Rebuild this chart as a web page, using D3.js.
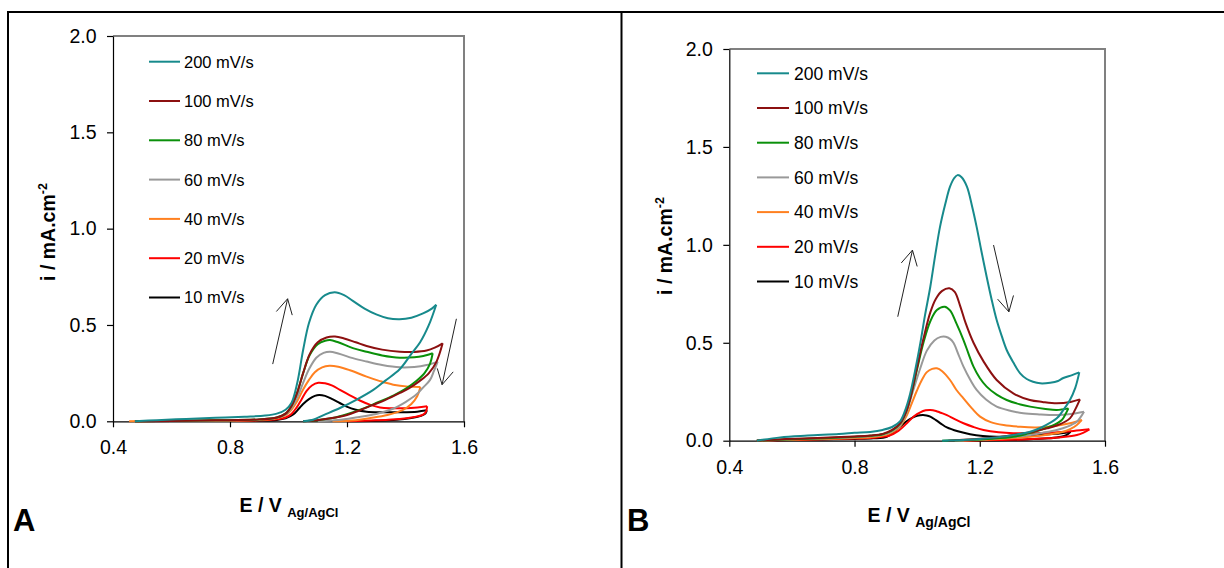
<!DOCTYPE html>
<html><head><meta charset="utf-8">
<script src="https://cdn.jsdelivr.net/npm/d3@7"></script>
<style>
body{margin:0;background:#fff}
svg{display:block}
text{font-family:Arial,"Liberation Sans",sans-serif;fill:#000}
</style>
</head><body>
<svg id="chart" width="1224" height="568"></svg>
<script>
// ---------- shared labels ----------
const rates = ["200 mV/s","100 mV/s","80 mV/s","60 mV/s","40 mV/s","20 mV/s","10 mV/s"];
const colors = ["#178a8c","#8c1010","#0a900a","#999999","#ff8020","#ff0000","#000000"];
const xTicks = [0.4,0.8,1.2,1.6];
const yTicks = [0,0.5,1.0,1.5,2.0];
const xDomain = [0.4,1.6];
const yDomain = [0,2];

// ---------- panel A : [E (V), i (mA/cm2)] ----------
const A200f = [[0.475,0],[0.55,0.006],[0.65,0.012],[0.75,0.018],[0.85,0.024],[0.92,0.03],[0.96,0.04],[0.99,0.06],[1.01,0.095],[1.03,0.2],[1.05,0.37],[1.07,0.51],[1.095,0.605],[1.125,0.655],[1.158,0.67],[1.19,0.655],[1.22,0.625],[1.26,0.585],[1.30,0.555],[1.34,0.535],[1.38,0.53],[1.42,0.538],[1.46,0.56],[1.49,0.585],[1.505,0.605]];
const A200r = [[1.505,0.605],[1.48,0.50],[1.45,0.41],[1.42,0.35],[1.38,0.27],[1.33,0.21],[1.29,0.163],[1.23,0.11],[1.176,0.069],[1.12,0.032],[1.084,0.008],[1.05,0]];
const A100f = [[0.475,0],[0.6,0.002],[0.75,0.005],[0.9,0.01],[0.96,0.02],[0.99,0.04],[1.01,0.08],[1.03,0.15],[1.05,0.25],[1.073,0.35],[1.1,0.41],[1.13,0.435],[1.159,0.44],[1.19,0.43],[1.23,0.41],[1.267,0.391],[1.32,0.372],[1.381,0.361],[1.43,0.36],[1.472,0.367],[1.50,0.382],[1.527,0.405]];
const A100r = [[1.527,0.405],[1.506,0.31],[1.48,0.25],[1.449,0.21],[1.41,0.17],[1.381,0.147],[1.33,0.11],[1.289,0.085],[1.24,0.055],[1.2,0.033],[1.15,0.017],[1.097,0.006],[1.05,0]];
const A80f = [[0.475,0],[0.6,0.002],[0.75,0.005],[0.9,0.01],[0.96,0.02],[0.99,0.04],[1.01,0.08],[1.03,0.15],[1.05,0.25],[1.073,0.345],[1.1,0.4],[1.125,0.418],[1.142,0.422],[1.17,0.41],[1.22,0.38],[1.267,0.361],[1.32,0.342],[1.381,0.33],[1.43,0.332],[1.461,0.339],[1.493,0.353]];
const A80r = [[1.493,0.353],[1.484,0.30],[1.465,0.25],[1.438,0.21],[1.40,0.168],[1.36,0.135],[1.30,0.095],[1.25,0.063],[1.2,0.037],[1.15,0.017],[1.1,0.006],[1.05,0]];
const A60f = [[0.475,0],[0.6,0.002],[0.75,0.004],[0.9,0.009],[0.96,0.018],[0.99,0.036],[1.01,0.07],[1.03,0.125],[1.05,0.2],[1.07,0.27],[1.095,0.33],[1.12,0.355],[1.142,0.361],[1.17,0.352],[1.22,0.328],[1.267,0.31],[1.32,0.292],[1.381,0.28],[1.43,0.282],[1.472,0.292],[1.51,0.31]];
const A60r = [[1.51,0.31],[1.497,0.26],[1.484,0.215],[1.46,0.175],[1.438,0.14],[1.4,0.1],[1.357,0.065],[1.3,0.038],[1.23,0.02],[1.17,0.007],[1.1,0]];
const A40f = [[0.455,0],[0.6,0.002],[0.75,0.003],[0.9,0.007],[0.96,0.016],[0.99,0.032],[1.01,0.06],[1.03,0.105],[1.05,0.165],[1.07,0.215],[1.09,0.255],[1.115,0.28],[1.14,0.288],[1.17,0.283],[1.21,0.265],[1.267,0.232],[1.31,0.21],[1.358,0.19],[1.41,0.18],[1.451,0.178]];
const A40r = [[1.451,0.178],[1.44,0.13],[1.42,0.09],[1.39,0.058],[1.338,0.033],[1.28,0.017],[1.23,0.006],[1.15,0]];
const A20f = [[0.475,0],[0.7,0.002],[0.9,0.005],[0.96,0.01],[0.99,0.02],[1.01,0.038],[1.028,0.072],[1.045,0.115],[1.062,0.158],[1.08,0.186],[1.102,0.2],[1.125,0.197],[1.15,0.185],[1.176,0.163],[1.21,0.135],[1.244,0.108],[1.28,0.085],[1.313,0.072],[1.35,0.068],[1.40,0.068],[1.44,0.072],[1.474,0.078]];
const A20r = [[1.474,0.078],[1.47,0.05],[1.46,0.035],[1.43,0.022],[1.38,0.012],[1.3,0.005],[1.2,0]];
const A10f = [[0.475,0],[0.7,0.002],[0.9,0.004],[0.96,0.007],[0.99,0.015],[1.016,0.035],[1.035,0.065],[1.05,0.09],[1.07,0.115],[1.09,0.132],[1.105,0.137],[1.125,0.132],[1.15,0.115],[1.175,0.095],[1.199,0.076],[1.23,0.06],[1.267,0.05],[1.32,0.047],[1.38,0.047],[1.44,0.05],[1.473,0.057]];
const A10r = [[1.473,0.057],[1.468,0.04],[1.45,0.027],[1.42,0.017],[1.37,0.008],[1.3,0.003],[1.2,0]];
const arrowsA = [[[0.946,0.297],[0.997,0.636]],[[1.574,0.532],[1.525,0.19]]];

// ---------- panel B ----------
const B200f = [[0.488,0],[0.563,0.017],[0.65,0.026],[0.75,0.034],[0.8,0.04],[0.85,0.045],[0.89,0.055],[0.92,0.07],[0.946,0.1],[0.965,0.17],[0.978,0.242],[0.995,0.37],[1.01,0.497],[1.025,0.64],[1.042,0.786],[1.058,0.95],[1.073,1.092],[1.09,1.21],[1.105,1.297],[1.118,1.34],[1.129,1.356],[1.142,1.345],[1.159,1.297],[1.175,1.2],[1.19,1.092],[1.205,0.97],[1.222,0.837],[1.238,0.72],[1.254,0.616],[1.27,0.535],[1.286,0.463],[1.307,0.4],[1.329,0.344],[1.35,0.315],[1.37,0.301],[1.393,0.293],[1.425,0.296],[1.45,0.305],[1.467,0.32],[1.495,0.335],[1.518,0.349]];
const B200r = [[1.518,0.349],[1.505,0.27],[1.488,0.208],[1.466,0.155],[1.446,0.114],[1.40,0.07],[1.361,0.046],[1.3,0.027],[1.254,0.017],[1.2,0.009],[1.147,0.004],[1.08,0]];
const B100f = [[0.488,0],[0.6,0.01],[0.7,0.015],[0.8,0.022],[0.85,0.027],[0.89,0.035],[0.92,0.055],[0.946,0.09],[0.965,0.15],[0.98,0.23],[0.999,0.37],[1.02,0.52],[1.042,0.655],[1.06,0.725],[1.08,0.765],[1.103,0.778],[1.12,0.76],[1.137,0.69],[1.155,0.6],[1.18,0.5],[1.212,0.405],[1.254,0.31],[1.307,0.242],[1.36,0.208],[1.40,0.198],[1.446,0.191],[1.49,0.198],[1.52,0.211]];
const B100r = [[1.52,0.211],[1.505,0.16],[1.488,0.114],[1.45,0.08],[1.414,0.063],[1.36,0.043],[1.307,0.029],[1.25,0.017],[1.18,0.008],[1.1,0]];
const B80f = [[0.488,0],[0.6,0.008],[0.7,0.013],[0.8,0.02],[0.85,0.025],[0.89,0.033],[0.92,0.052],[0.946,0.088],[0.965,0.15],[0.98,0.23],[0.999,0.36],[1.02,0.5],[1.042,0.61],[1.063,0.667],[1.088,0.684],[1.105,0.665],[1.125,0.6],[1.148,0.514],[1.165,0.44],[1.18,0.378],[1.2,0.32],[1.222,0.276],[1.254,0.235],[1.286,0.208],[1.33,0.185],[1.361,0.174],[1.41,0.162],[1.446,0.157],[1.483,0.165]];
const B80r = [[1.483,0.165],[1.472,0.13],[1.462,0.106],[1.43,0.075],[1.393,0.055],[1.35,0.035],[1.307,0.02],[1.24,0.01],[1.15,0.003],[1.08,0]];
const B60f = [[0.488,0],[0.6,0.007],[0.7,0.012],[0.8,0.018],[0.85,0.023],[0.89,0.03],[0.92,0.048],[0.946,0.08],[0.965,0.14],[0.988,0.26],[1.01,0.37],[1.031,0.46],[1.055,0.512],[1.075,0.53],[1.091,0.531],[1.105,0.52],[1.116,0.5],[1.132,0.44],[1.148,0.378],[1.17,0.31],[1.19,0.259],[1.22,0.21],[1.254,0.174],[1.3,0.152],[1.339,0.14],[1.39,0.134],[1.446,0.131],[1.49,0.136],[1.533,0.148]];
const B60r = [[1.533,0.148],[1.522,0.12],[1.51,0.097],[1.48,0.072],[1.446,0.055],[1.4,0.04],[1.361,0.029],[1.3,0.017],[1.22,0.008],[1.12,0]];
const B40f = [[0.488,0],[0.6,0.005],[0.7,0.009],[0.8,0.014],[0.85,0.018],[0.89,0.026],[0.92,0.042],[0.946,0.075],[0.967,0.13],[0.985,0.2],[0.999,0.255],[1.015,0.31],[1.031,0.35],[1.048,0.367],[1.063,0.37],[1.08,0.355],[1.105,0.31],[1.125,0.26],[1.148,0.216],[1.175,0.165],[1.201,0.123],[1.235,0.095],[1.276,0.08],[1.33,0.071],[1.382,0.068],[1.44,0.075],[1.488,0.089],[1.526,0.106]];
const B40r = [[1.526,0.106],[1.51,0.08],[1.49,0.06],[1.467,0.046],[1.42,0.032],[1.361,0.02],[1.3,0.012],[1.22,0.005],[1.12,0]];
const B20f = [[0.488,0],[0.6,0.004],[0.7,0.007],[0.8,0.011],[0.85,0.014],[0.89,0.02],[0.91,0.025],[0.94,0.05],[0.967,0.089],[0.99,0.125],[1.01,0.145],[1.027,0.155],[1.042,0.157],[1.06,0.152],[1.075,0.143],[1.095,0.131],[1.12,0.11],[1.148,0.089],[1.18,0.07],[1.212,0.055],[1.26,0.043],[1.307,0.038],[1.36,0.038],[1.414,0.041],[1.46,0.045],[1.5,0.05],[1.55,0.058]];
const B20r = [[1.55,0.058],[1.53,0.04],[1.51,0.029],[1.46,0.018],[1.414,0.012],[1.35,0.007],[1.25,0.003],[1.15,0]];
const B10f = [[0.488,0],[0.6,0.003],[0.7,0.006],[0.8,0.009],[0.86,0.012],[0.903,0.02],[0.925,0.045],[0.946,0.072],[0.965,0.098],[0.985,0.118],[1.0,0.127],[1.018,0.131],[1.03,0.129],[1.042,0.123],[1.06,0.105],[1.078,0.085],[1.095,0.068],[1.13,0.048],[1.169,0.033],[1.21,0.024],[1.254,0.02],[1.32,0.022],[1.393,0.029],[1.44,0.035],[1.49,0.045]];
const B10r = [[1.49,0.045],[1.478,0.03],[1.46,0.02],[1.42,0.012],[1.35,0.006],[1.25,0.002],[1.15,0]];
const arrowsB = [[[0.938,0.633],[0.985,0.973]],[[1.244,0.999],[1.293,0.658]]];

// ---------- drawing ----------
const svg = d3.select("#chart");
const FONT = 'Arial,"Liberation Sans",sans-serif';

// outer frame
const frame = svg.append("g").attr("stroke","#000").attr("stroke-width",2);
frame.append("line").attr("x1",7).attr("x2",1224).attr("y1",12).attr("y2",12);
frame.append("line").attr("x1",8).attr("x2",8).attr("y1",11).attr("y2",568);
frame.append("line").attr("x1",621.5).attr("x2",621.5).attr("y1",11).attr("y2",568);

function drawPanel(p){
  const x = d3.scaleLinear().domain(xDomain).range(p.xr);
  const y = d3.scaleLinear().domain(yDomain).range(p.yr);
  const g = svg.append("g");

  // gray top/right frame
  g.append("path")
    .attr("d",`M${x(xDomain[0])},${y(yDomain[1])}H${x(xDomain[1])}V${y(yDomain[0])}`)
    .attr("fill","none").attr("stroke","#808080").attr("stroke-width",2);

  const xa = g.append("g").attr("transform",`translate(0,${y(0)})`)
    .call(d3.axisBottom(x).tickValues(xTicks).tickSize(6).tickSizeOuter(0).tickPadding(13).tickFormat(d3.format(".1f")));
  const ya = g.append("g").attr("transform",`translate(${x(xDomain[0])},0)`)
    .call(d3.axisLeft(y).tickValues(yTicks).tickSize(6).tickSizeOuter(0).tickPadding(10.5).tickFormat(d3.format(".1f")));
  [xa,ya].forEach(a=>{
    a.selectAll("path,line").attr("stroke","#000").attr("stroke-width",1.2);
    a.selectAll("text").attr("font-size",19.5).attr("font-family",FONT).attr("fill","#000");
  });

  // curves
  const line = d3.line().x(d=>x(d[0])).y(d=>y(d[1])).curve(d3.curveCatmullRom.alpha(0.5));
  const cg = g.append("g").attr("fill","none").attr("stroke-width",2).attr("stroke-linejoin","round");
  for(let k=p.fwd.length-1;k>=0;k--){
    cg.append("path").attr("d",line(p.fwd[k])).attr("stroke",colors[k]);
    cg.append("path").attr("d",line(p.rev[k])).attr("stroke",colors[k]);
  }

  // arrows
  const ag = g.append("g").attr("stroke","#222").attr("stroke-width",1).attr("fill","none");
  p.arrows.forEach(a=>{
    const x0=x(a[0][0]), y0=y(a[0][1]), x1=x(a[1][0]), y1=y(a[1][1]);
    const ang = Math.atan2(y1-y0,x1-x0), L=17, h=0.5;
    const p1=[x1-L*Math.cos(ang-h), y1-L*Math.sin(ang-h)];
    const p2=[x1-L*Math.cos(ang+h), y1-L*Math.sin(ang+h)];
    ag.append("path").attr("d",`M${x0},${y0}L${x1},${y1}M${p1[0]},${p1[1]}L${x1},${y1}L${p2[0]},${p2[1]}`);
  });

  // legend
  const lg = g.append("g");
  rates.forEach((r,k)=>{
    const yy = p.leg.y0 + k*p.leg.dy;
    lg.append("line").attr("x1",p.leg.x1).attr("x2",p.leg.x2).attr("y1",yy).attr("y2",yy)
      .attr("stroke",colors[k]).attr("stroke-width",2);
    lg.append("text").attr("x",p.leg.tx).attr("y",yy).attr("dy","0.36em")
      .attr("font-size",p.leg.fs).text(r);
  });

  // y label
  const cx = p.ylab.x, cy = p.ylab.y;
  const yl = g.append("text").attr("transform",`translate(${cx},${cy}) rotate(-90)`)
    .attr("text-anchor","middle").attr("font-weight","bold").attr("font-size",19.5).attr("dy","0.35em");
  yl.append("tspan").text("i / mA.cm");
  yl.append("tspan").attr("font-size",12.5).attr("dy",-8).text("-2");

  // x label
  const xl = g.append("text").attr("x",p.xlab.x).attr("y",p.xlab.y)
    .attr("text-anchor","middle").attr("font-weight","bold").attr("font-size",19.5);
  xl.append("tspan").text("E / V ");
  xl.append("tspan").attr("font-size",p.xlab.sub).attr("dy",5).text("Ag/AgCl");

  // panel letter
  g.append("text").attr("x",p.letter.x).attr("y",p.letter.y).attr("font-weight","bold")
    .attr("font-size",31).text(p.letter.t);
}

drawPanel({
  xr:[113,464], yr:[421.3,36],
  fwd:[A200f,A100f,A80f,A60f,A40f,A20f,A10f],
  rev:[A200r,A100r,A80r,A60r,A40r,A20r,A10r],
  arrows:arrowsA,
  leg:{x1:149,x2:180,tx:184,y0:61.7,dy:39.3,fs:16.5},
  ylab:{x:48,y:232},
  xlab:{x:289,y:512,sub:13},
  letter:{x:13,y:531,t:"A"}
});
drawPanel({
  xr:[729.3,1105], yr:[440.7,49],
  fwd:[B200f,B100f,B80f,B60f,B40f,B20f,B10f],
  rev:[B200r,B100r,B80r,B60r,B40r,B20r,B10r],
  arrows:arrowsB,
  leg:{x1:757,x2:789,tx:794,y0:73.3,dy:34.7,fs:17.5},
  ylab:{x:665,y:246},
  xlab:{x:919,y:522,sub:14},
  letter:{x:627,y:531,t:"B"}
});
</script>
</body></html>
